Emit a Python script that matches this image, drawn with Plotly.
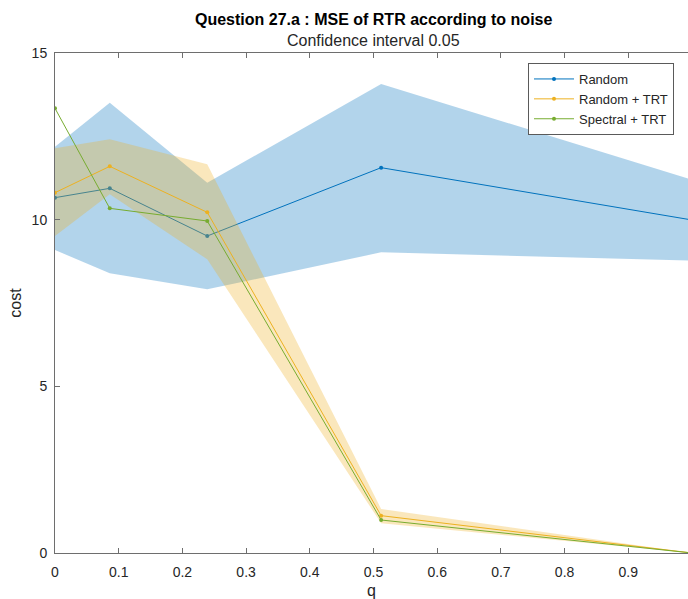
import plotly.graph_objects as go

# ---- data ----
q = [0.0, 0.086, 0.239, 0.512, 1.0]

random_mean = [10.66, 10.94, 9.51, 11.56, 9.99]
random_upper = [12.19, 13.51, 11.11, 14.07, 11.20]
random_lower = [9.09, 8.39, 7.91, 9.02, 8.77]

random_trt_mean = [10.81, 11.60, 10.22, 1.12, 0.0]
random_trt_upper = [12.14, 12.41, 11.66, 1.32, 0.0]
random_trt_lower = [9.51, 10.76, 8.81, 0.89, 0.0]

spectral_trt_mean = [13.34, 10.34, 9.96, 0.99, 0.0]

x_ticks = [0, 0.1, 0.2, 0.3, 0.4, 0.5, 0.6, 0.7, 0.8, 0.9, 1]
x_tick_labels = ["0", "0.1", "0.2", "0.3", "0.4", "0.5", "0.6", "0.7", "0.8", "0.9", "1"]
y_ticks = [0, 5, 10, 15]

title_text = "Question 27.a : MSE of RTR according to noise"
subtitle_text = "Confidence interval 0.05"

BLUE = "#0072BD"
ORANGE = "#EDB120"
GREEN = "#77AC30"
FONT = "Liberation Sans, Arial, Helvetica, sans-serif"
TXT = "#262626"
AX = "#6e6e6e"

fig = go.Figure()


def band(lower, upper, color):
    return go.Scatter(
        x=list(q) + list(q)[::-1],
        y=list(upper) + list(lower)[::-1],
        fill="toself",
        fillcolor=color,
        line=dict(width=0),
        mode="lines",
        showlegend=False,
        hoverinfo="skip",
    )


def line(y, color, name):
    return go.Scatter(
        x=q, y=y, mode="lines+markers", name=name,
        line=dict(color=color, width=1),
        marker=dict(color=color, size=4),
    )


fig.add_trace(band(random_lower, random_upper, "rgba(0,114,189,0.30)"))
fig.add_trace(line(random_mean, BLUE, "Random"))
fig.add_trace(band(random_trt_lower, random_trt_upper, "rgba(237,177,32,0.30)"))
fig.add_trace(line(random_trt_mean, ORANGE, "Random + TRT"))
fig.add_trace(line(spectral_trt_mean, GREEN, "Spectral + TRT"))

L, R, T, B = 55, 0, 53, 46
W, H = 688, 599
pw = W - L - R
ph = H - T - B

fig.update_layout(
    width=W, height=H,
    margin=dict(l=L, r=R, t=T, b=B, pad=0),
    paper_bgcolor="white", plot_bgcolor="white",
    font=dict(family=FONT, size=13, color=TXT),
    showlegend=True,
    legend=dict(
        x=(528 - L) / pw, y=(H - B - 63) / ph,
        xanchor="left", yanchor="top",
        bgcolor="white", bordercolor="#5a5a5a", borderwidth=1,
        font=dict(family=FONT, size=13, color=TXT),
        itemwidth=40, tracegroupgap=0,
    ),
    xaxis=dict(
        range=[0, (688 - 55) / 637.0],
        tickmode="array", tickvals=x_ticks, ticktext=x_tick_labels,
        ticks="inside", ticklen=5, tickcolor=AX, tickwidth=1,
        showline=True, linecolor=AX, linewidth=1, mirror="ticks",
        showgrid=False, zeroline=False,
        tickfont=dict(size=14, color=TXT),
        ticklabelstandoff=6,
        title=dict(text="q", font=dict(size=16, color=TXT), standoff=6),
    ),
    yaxis=dict(
        range=[0, 15],
        tickmode="array", tickvals=y_ticks,
        ticks="inside", ticklen=5, tickcolor=AX, tickwidth=1,
        showline=True, linecolor=AX, linewidth=1, mirror=False,
        showgrid=False, zeroline=False,
        tickfont=dict(size=14, color=TXT),
        ticklabelstandoff=4,
        title=dict(text="cost", font=dict(size=16, color=TXT), standoff=6),
    ),
    annotations=[
        dict(text="<b>" + title_text + "</b>", x=(373 - L) / pw, y=20,
             xref="paper", yref="paper", yanchor="middle", xanchor="center",
             showarrow=False, font=dict(size=16, color="black")),
        dict(text=subtitle_text, x=(373 - L) / pw, y=41,
             xref="paper", yref="paper", yanchor="middle", xanchor="center",
             showarrow=False, font=dict(size=16, color=TXT)),
    ],
)

# convert pixel y for annotations into paper coordinates
for ann in fig.layout.annotations:
    ann.y = (H - B - ann.y) / ph

fig.write_html("out.html")
